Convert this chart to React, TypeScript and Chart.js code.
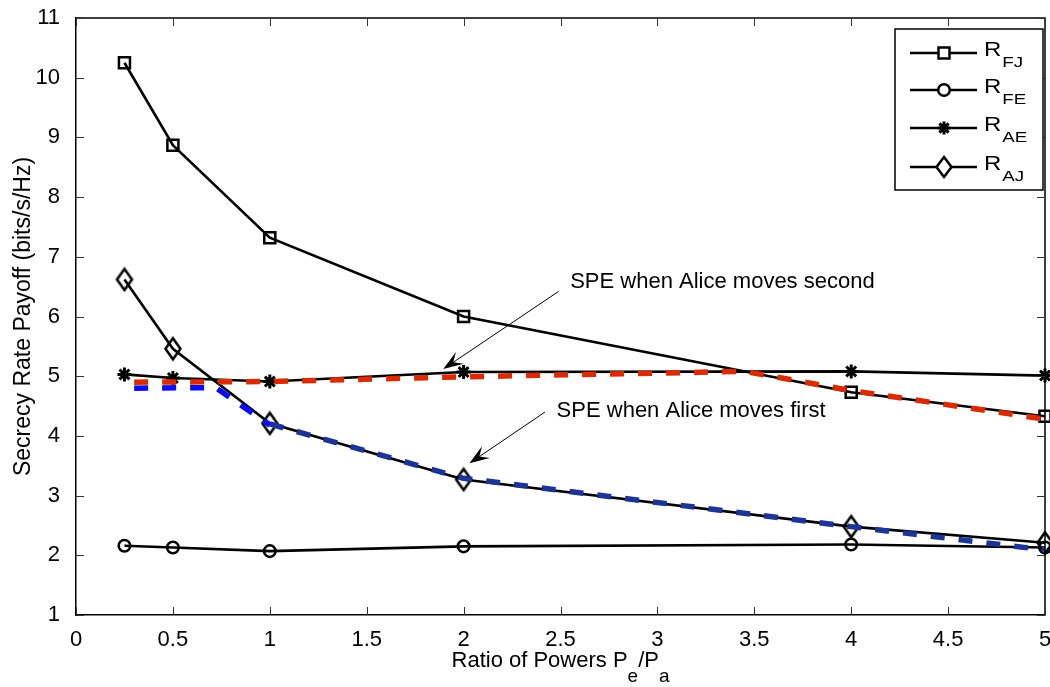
import React, { useEffect, useRef } from 'react';
import { Chart, registerables } from 'chart.js';

Chart.register(...registerables);

// ---------- data ----------
const xValues = [0.25, 0.5, 1, 2, 4, 5];
const rFJ = [10.25, 8.87, 7.32, 6.0, 4.73, 4.33];
const rFE = [2.16, 2.13, 2.07, 2.15, 2.18, 2.13];
const rAE = [5.03, 4.97, 4.91, 5.07, 5.08, 5.01];
const rAJ = [6.62, 5.46, 4.21, 3.27, 2.48, 2.21];

// SPE when Alice moves second (red dashed)
const speSecondX = [0.3, 1, 2, 3.45, 4, 5];
const speSecondY = [4.9, 4.91, 4.99, 5.08, 4.76, 4.28];
// SPE when Alice moves first (blue dashed, two tones)
const speFirstAX = [0.3, 0.72, 1];
const speFirstAY = [4.8, 4.81, 4.18];
const speFirstBX = [1, 2, 4, 5];
const speFirstBY = [4.2, 3.29, 2.48, 2.09];

const xTickStep = 0.5;
const yTickStep = 1;

const legendMain = ['R', 'R', 'R', 'R'];
const legendSubs = ['FJ', 'FE', 'AE', 'AJ'];
const legendMarkers = ['square', 'circle', 'star', 'diamond'];

const annotationTexts = ['SPE when Alice moves second', 'SPE when Alice moves first'];
const annotationTextX = [2.55, 2.48];
const annotationTextY = [6.48, 4.32];
const arrowFromX = [2.49, 2.42];
const arrowFromY = [6.42, 4.4];
const arrowToX = [1.895, 2.03];
const arrowToY = [5.12, 3.54];

const xTitleParts = [
  { text: 'Ratio of Powers P', sub: false },
  { text: 'e', sub: true },
  { text: '/P', sub: false },
  { text: 'a', sub: true },
];
const yTitle = 'Secrecy Rate Payoff (bits/s/Hz)';

const FONT = '"Liberation Sans", Arial, Helvetica, sans-serif';
const RED = '#dc2a00';
const BLUE = '#0a0af5';
const NAVY = '#1b3496';
const LINE_W = 2.6;

const pts = (xs: number[], ys: number[]) => xs.map((x, i) => ({ x, y: ys[i] }));

function makeDiamond(): HTMLCanvasElement {
  const c = document.createElement('canvas');
  c.width = 22;
  c.height = 26;
  const g = c.getContext('2d')!;
  g.strokeStyle = '#000';
  g.lineWidth = 2.5;
  g.beginPath();
  g.moveTo(11, 2.5);
  g.lineTo(18.5, 13);
  g.lineTo(11, 23.5);
  g.lineTo(3.5, 13);
  g.closePath();
  g.stroke();
  return c;
}

function drawStretched(ctx: CanvasRenderingContext2D, text: string, x: number, y: number, sx: number) {
  ctx.save();
  ctx.translate(x, y);
  ctx.scale(sx, 1);
  ctx.fillText(text, 0, 0);
  ctx.restore();
}

function drawMarker(ctx: CanvasRenderingContext2D, kind: string, x: number, y: number) {
  ctx.save();
  ctx.strokeStyle = '#000';
  ctx.lineWidth = 2.5;
  ctx.beginPath();
  if (kind === 'square') {
    ctx.rect(x - 5.5, y - 5.5, 11, 11);
    ctx.fillStyle = '#fff';
    ctx.fill();
    ctx.stroke();
  } else if (kind === 'circle') {
    ctx.arc(x, y, 5.8, 0, Math.PI * 2);
    ctx.fillStyle = '#fff';
    ctx.fill();
    ctx.stroke();
  } else if (kind === 'star') {
    ctx.lineWidth = 3;
    const r = 6.5;
    for (let k = 0; k < 4; k++) {
      const a = (k * Math.PI) / 4;
      ctx.moveTo(x - r * Math.cos(a), y - r * Math.sin(a));
      ctx.lineTo(x + r * Math.cos(a), y + r * Math.sin(a));
    }
    ctx.stroke();
  } else {
    ctx.moveTo(x, y - 10);
    ctx.lineTo(x + 7.5, y);
    ctx.lineTo(x, y + 10);
    ctx.lineTo(x - 7.5, y);
    ctx.closePath();
    ctx.fillStyle = '#fff';
    ctx.fill();
    ctx.stroke();
  }
  ctx.restore();
}

const decorPlugin = {
  id: 'decor',
  afterDraw(chart: any) {
    const { ctx, chartArea: ca, scales } = chart;
    const xs = scales.x;
    const ys = scales.y;
    ctx.save();

    // top and right frame
    ctx.strokeStyle = '#000';
    ctx.lineWidth = 1.5;
    ctx.beginPath();
    ctx.moveTo(ca.left, ca.top);
    ctx.lineTo(ca.right, ca.top);
    ctx.lineTo(ca.right, ca.bottom);
    ctx.stroke();

    // inward tick marks on all four sides
    ctx.lineWidth = 1;
    ctx.strokeStyle = '#333';
    const tl = 8;
    ctx.beginPath();
    xs.ticks.forEach((t: any) => {
      const px = Math.round(xs.getPixelForValue(t.value)) + 0.5;
      ctx.moveTo(px, ca.bottom);
      ctx.lineTo(px, ca.bottom - tl);
      ctx.moveTo(px, ca.top);
      ctx.lineTo(px, ca.top + tl);
    });
    ys.ticks.forEach((t: any) => {
      const py = Math.round(ys.getPixelForValue(t.value)) + 0.5;
      ctx.moveTo(ca.left, py);
      ctx.lineTo(ca.left + tl, py);
      ctx.moveTo(ca.right, py);
      ctx.lineTo(ca.right - tl, py);
    });
    ctx.stroke();

    // annotations with arrows
    ctx.fillStyle = '#000';
    ctx.strokeStyle = '#000';
    ctx.font = `22px ${FONT}`;
    ctx.textAlign = 'left';
    ctx.textBaseline = 'alphabetic';
    annotationTexts.forEach((txt, i) => {
      ctx.fillText(txt, xs.getPixelForValue(annotationTextX[i]), ys.getPixelForValue(annotationTextY[i]));
      const x0 = xs.getPixelForValue(arrowFromX[i]);
      const y0 = ys.getPixelForValue(arrowFromY[i]);
      const x1 = xs.getPixelForValue(arrowToX[i]);
      const y1 = ys.getPixelForValue(arrowToY[i]);
      const ang = Math.atan2(y1 - y0, x1 - x0);
      const hl = 20;
      const hw = 7;
      const ux = Math.cos(ang);
      const uy = Math.sin(ang);
      ctx.lineWidth = 1;
      ctx.beginPath();
      ctx.moveTo(x0, y0);
      ctx.lineTo(x1 - ux * hl * 0.6, y1 - uy * hl * 0.6);
      ctx.stroke();
      ctx.beginPath();
      ctx.moveTo(x1, y1);
      ctx.lineTo(x1 - ux * hl - uy * hw, y1 - uy * hl + ux * hw);
      ctx.lineTo(x1 - ux * hl * 0.6, y1 - uy * hl * 0.6);
      ctx.lineTo(x1 - ux * hl + uy * hw, y1 - uy * hl - ux * hw);
      ctx.closePath();
      ctx.fill();
    });

    // x axis title with subscripts
    const sx = 1.0;
    const mainF = `22px ${FONT}`;
    const subF = `19px ${FONT}`;
    let total = 0;
    const widths = xTitleParts.map((p) => {
      ctx.font = p.sub ? subF : mainF;
      const w = ctx.measureText(p.text).width * sx;
      total += w;
      return w;
    });
    let cx = (ca.left + ca.right) / 2 - total / 2;
    const baseY = ca.bottom + 52;
    xTitleParts.forEach((p, i) => {
      ctx.font = p.sub ? subF : mainF;
      drawStretched(ctx, p.text, cx, p.sub ? baseY + 15 : baseY, sx);
      cx += widths[i];
    });

    // y axis title
    ctx.save();
    ctx.font = `23px ${FONT}`;
    ctx.textAlign = 'center';
    ctx.translate(30, (ca.top + ca.bottom) / 2);
    ctx.rotate(-Math.PI / 2);
    ctx.fillText(yTitle, 0, 0);
    ctx.restore();

    // legend
    const lx = ca.right - 150;
    const ly = ca.top + 11;
    const lw = 148;
    const lh = 161;
    ctx.fillStyle = '#fff';
    ctx.fillRect(lx, ly, lw, lh);
    ctx.strokeStyle = '#000';
    ctx.lineWidth = 1.5;
    ctx.strokeRect(lx, ly, lw, lh);
    const rows = [24, 61, 99, 138];
    legendMain.forEach((m, i) => {
      const ry = ly + rows[i];
      ctx.strokeStyle = '#000';
      ctx.lineWidth = LINE_W;
      ctx.beginPath();
      ctx.moveTo(lx + 15, ry);
      ctx.lineTo(lx + 82, ry);
      ctx.stroke();
      drawMarker(ctx, legendMarkers[i], lx + 49, ry);
      ctx.fillStyle = '#000';
      ctx.textAlign = 'left';
      ctx.font = `20px ${FONT}`;
      drawStretched(ctx, m, lx + 89, ry + 3, 1.2);
      const mw = ctx.measureText(m).width * 1.2;
      ctx.font = `15px ${FONT}`;
      drawStretched(ctx, legendSubs[i], lx + 89 + mw + 1, ry + 14, 1.25);
    });

    ctx.restore();
  },
};

export default function App() {
  const canvasRef = useRef<HTMLCanvasElement | null>(null);

  useEffect(() => {
    if (!canvasRef.current) return;
    const diamond = makeDiamond();
    const black = (label: string, ys: number[], style: any, radius: number, bw: number) => ({
      label,
      data: pts(xValues, ys),
      borderColor: '#000',
      borderWidth: LINE_W,
      pointStyle: style,
      pointRadius: radius,
      pointBorderWidth: bw,
      pointBorderColor: '#000',
      pointBackgroundColor: 'rgba(0,0,0,0)',
      fill: false,
      tension: 0,
      clip: false,
    });
    const dashed = (label: string, xs: number[], ys: number[], color: string) => ({
      label,
      data: pts(xs, ys),
      borderColor: color,
      borderWidth: 5.5,
      borderDash: [14, 14],
      borderCapStyle: 'butt',
      pointRadius: 0,
      fill: false,
      tension: 0,
      clip: false,
    });

    const chart = new Chart(canvasRef.current, {
      type: 'line',
      data: {
        datasets: [
          dashed('SPE second', speSecondX, speSecondY, RED),
          dashed('SPE first A', speFirstAX, speFirstAY, BLUE),
          dashed('SPE first B', speFirstBX, speFirstBY, NAVY),
          black('R_FJ', rFJ, 'rect', 7.8, 2.5),
          black('R_FE', rFE, 'circle', 5.8, 2.5),
          black('R_AE', rAE, 'star', 7, 3),
          black('R_AJ', rAJ, diamond, 11, 2.5),
        ] as any,
      },
      options: {
        responsive: false,
        animation: false,
        events: [],
        layout: { autoPadding: false, padding: { top: 18, right: 5, left: 0, bottom: 0 } },
        plugins: {
          legend: { display: false },
          tooltip: { enabled: false },
          title: { display: false },
        },
        scales: {
          x: {
            type: 'linear',
            min: 0,
            max: 5,
            ticks: {
              stepSize: xTickStep,
              color: '#000',
              font: { family: FONT, size: 22 },
              padding: 4,
              maxRotation: 0,
              autoSkip: false,
              callback: (v: any) => String(v),
            },
            grid: { display: false },
            border: { display: true, color: '#000', width: 1.5 },
            afterFit: (s: any) => {
              s.height = 72;
              s.paddingLeft = 0;
              s.paddingRight = 0;
            },
          },
          y: {
            type: 'linear',
            min: 1,
            max: 11,
            ticks: {
              stepSize: yTickStep,
              color: '#000',
              font: { family: FONT, size: 22 },
              padding: 8,
              autoSkip: false,
              callback: (v: any) => String(v),
            },
            grid: { display: false },
            border: { display: true, color: '#000', width: 1.5 },
            afterFit: (s: any) => {
              s.width = 76;
              s.paddingTop = 0;
              s.paddingBottom = 0;
            },
          },
        },
      } as any,
      plugins: [decorPlugin as any],
    });
    return () => chart.destroy();
  }, []);

  return (
    <div style={{ position: 'absolute', left: 0, top: 0, width: 1050, height: 687, background: '#fff' }}>
      <canvas ref={canvasRef} width={1050} height={687} />
    </div>
  );
}
